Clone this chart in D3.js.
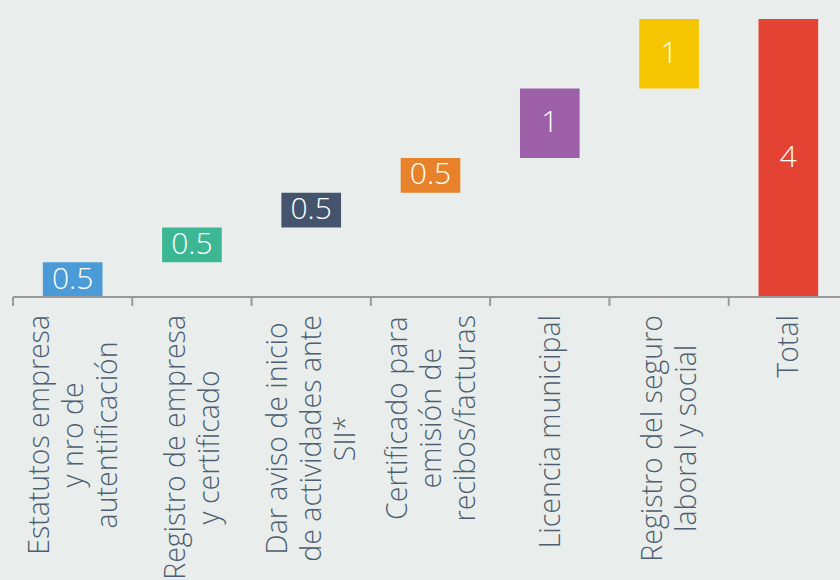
<!DOCTYPE html>
<html lang="es">
  <head>
    <meta charset="UTF-8" />
    <title>Pasos para crear empresa</title>
    <script src="https://cdn.jsdelivr.net/npm/d3@7"></script>
    <style>
      html, body { margin: 0; padding: 0; background: #e9eeed; }
      svg { display: block; font-family: "Open Sans", sans-serif; }
    </style>
  </head>
  <body>
    <div id="chart"></div>

<script>
// steps of the waterfall (last one is the total)
var categories = [
  ["Estatutos empresa", "y nro de", "autentificación"],
  ["Registro de empresa", "y certificado"],
  ["Dar aviso de inicio", "de actividades ante", "SII*"],
  ["Certificado para", "emisión de", "recibos/facturas"],
  ["Licencia municipal"],
  ["Registro del seguro", "laboral y social"],
  ["Total"]
]
var steps = [0.5, 0.5, 0.5, 0.5, 1, 1]
var colors = ["#4a9bd7", "#3bb794", "#43546c", "#e8822a", "#9d60a8", "#f5c600", "#e44333"]

var width = 840
    height = 580
    axisY = 297

// build waterfall rows from the step values
var rows = []
var run = 0
steps.forEach(function(v, i) {
  rows.push({ key: i, start: run, end: run + v, value: v })
  run += v
})
rows.push({ key: steps.length, start: 0, end: run, value: run })

var svg = d3.select("#chart")
  .append("svg")
    .attr("width", width)
    .attr("height", height)

var x = d3.scaleBand()
  .domain(d3.range(categories.length))
  .range([13, 848])
  .paddingInner(0.5)
  .paddingOuter(0.25)

var y = d3.scaleLinear()
  .domain([0, 4])
  .range([axisY, 19])

// bars
svg.selectAll("rect.bar")
  .data(rows)
  .enter()
  .append("rect")
    .attr("class", "bar")
    .attr("x", function(d) { return x(d.key) })
    .attr("width", x.bandwidth())
    .attr("y", function(d) { return y(d.end) })
    .attr("height", function(d) { return y(d.start) - y(d.end) })
    .attr("fill", function(d, i) { return colors[i] })

// value labels inside bars
svg.selectAll("text.val")
  .data(rows)
  .enter()
  .append("text")
    .attr("class", "val")
    .attr("x", function(d) { return x(d.key) + x.bandwidth() / 2 })
    .attr("y", function(d) { return (y(d.start) + y(d.end)) / 2 + 9 })
    .attr("text-anchor", "middle")
    .attr("fill", "#ffffff")
    .style("font-size", "30px")
    .style("font-weight", 300)
    .text(function(d) { return d.value })

// axis line and ticks between the bands
var half = x.paddingInner() * x.step() / 2
var bounds = d3.range(categories.length + 1).map(function(i) {
  return i < categories.length ? x(i) - half : x(i - 1) + x.bandwidth() + half
})

svg.append("line")
  .attr("x1", bounds[0]).attr("x2", width)
  .attr("y1", axisY).attr("y2", axisY)
  .attr("stroke", "#9a9a9a")
  .attr("stroke-width", 2)

svg.selectAll("line.tick")
  .data(bounds)
  .enter()
  .append("line")
    .attr("class", "tick")
    .attr("x1", function(d) { return d }).attr("x2", function(d) { return d })
    .attr("y1", axisY).attr("y2", axisY + 9)
    .attr("stroke", "#9a9a9a")
    .attr("stroke-width", 2)

// rotated, centred multi-line category labels
var lineGap = 34
var labels = svg.selectAll("g.lab")
  .data(categories)
  .enter()
  .append("g")
    .attr("class", "lab")
    .attr("transform", function(d, i) {
      return "translate(" + (x(i) + x.bandwidth() / 2) + "," + axisY + ") rotate(-90)"
    })

labels.each(function(lines) {
  var g = d3.select(this)
  var t = g.selectAll("text")
    .data(lines)
    .enter()
    .append("text")
      .attr("text-anchor", "middle")
      .attr("fill", "#4c5e6f")
      .style("font-size", "28.5px")
      .style("font-weight", 300)
      .attr("y", function(s, j) { return (j - (lines.length - 1) / 2) * lineGap + 10 })
      .text(function(s) { return s })
  var maxW = d3.max(t.nodes(), function(n) { return n.getComputedTextLength() })
  t.attr("x", -(18 + maxW / 2))
})
</script>
  </body>
</html>
